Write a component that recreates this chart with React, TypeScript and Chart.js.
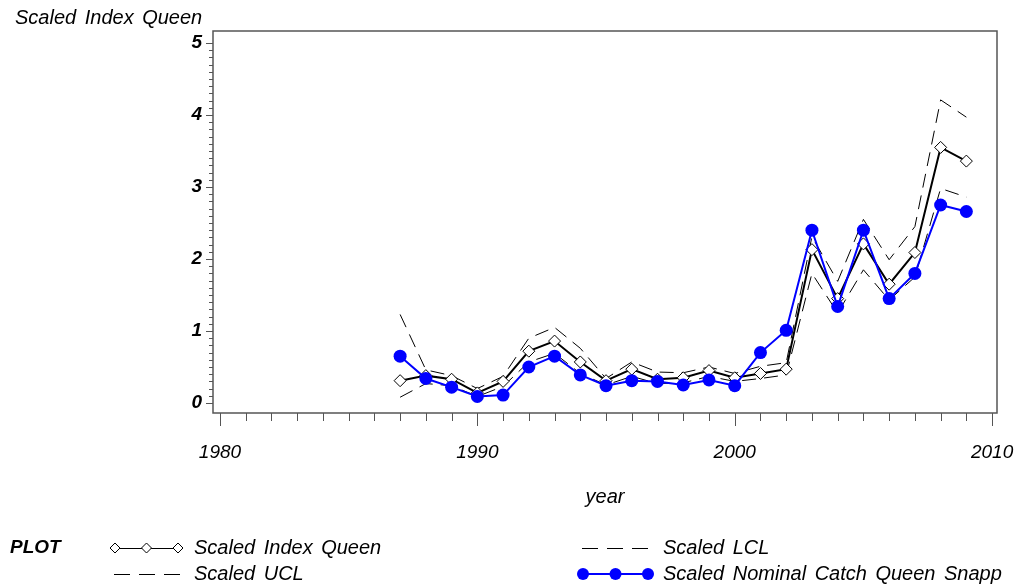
import React, { useEffect, useRef } from "react";
import { Chart, registerables } from "chart.js";

Chart.register(...registerables);

const years = [1987, 1988, 1989, 1990, 1991, 1992, 1993, 1994, 1995, 1996, 1997, 1998, 1999, 2000, 2001, 2002, 2003, 2004, 2005, 2006, 2007, 2008, 2009];
const scaledIndex = [0.31, 0.38, 0.33, 0.14, 0.30, 0.72, 0.86, 0.57, 0.31, 0.47, 0.33, 0.35, 0.45, 0.35, 0.41, 0.47, 2.13, 1.45, 2.21, 1.65, 2.09, 3.55, 3.36];
const scaledUCL = [1.23, 0.46, 0.38, 0.20, 0.37, 0.90, 1.05, 0.76, 0.34, 0.57, 0.43, 0.42, 0.50, 0.41, 0.51, 0.56, 2.31, 1.69, 2.55, 1.99, 2.45, 4.21, 3.97];
const scaledLCL = [0.08, 0.27, 0.24, 0.09, 0.23, 0.57, 0.69, 0.41, 0.25, 0.37, 0.27, 0.28, 0.37, 0.30, 0.34, 0.39, 1.80, 1.25, 1.85, 1.43, 1.75, 2.98, 2.86];
const scaledNominal = [0.65, 0.34, 0.22, 0.09, 0.11, 0.50, 0.65, 0.39, 0.24, 0.31, 0.30, 0.25, 0.32, 0.24, 0.70, 1.01, 2.40, 1.34, 2.40, 1.45, 1.80, 2.75, 2.66];

const xTickYears = [1980, 1990, 2000, 2010];
const yTickValues = [0, 1, 2, 3, 4, 5];

const yAxisTitle = "Scaled Index Queen";
const xAxisTitle = "year";
const legendHeader = "PLOT";
const seriesNames = ["Scaled Index Queen", "Scaled UCL", "Scaled LCL", "Scaled Nominal Catch Queen Snapp"];

const FAMILY = '"Liberation Sans", Arial, sans-serif';
const BLUE = "#0000ff";

const pts = (vals: number[]) => years.map((yr, i) => ({ x: yr, y: vals[i] }));

const decorPlugin = {
  id: "decor",
  afterDraw(chart: any) {
    const { ctx, chartArea: a, scales } = chart;
    const xs = scales.x;
    const ys = scales.y;
    ctx.save();
    // frame
    ctx.strokeStyle = "#555";
    ctx.lineWidth = 1.5;
    ctx.strokeRect(a.left, a.top, a.right - a.left, a.bottom - a.top);
    // y ticks (major every 1, minor every 0.1)
    ctx.lineWidth = 1;
    ctx.strokeStyle = "#555";
    for (let i = 0; i <= 50; i++) {
      const y = Math.round(ys.getPixelForValue(i / 10)) + 0.5;
      const len = i % 10 === 0 ? 7 : 4;
      ctx.beginPath();
      ctx.moveTo(a.left - len, y);
      ctx.lineTo(a.left, y);
      ctx.stroke();
    }
    // x ticks (major every 10 years, minor every year)
    for (let yr = xTickYears[0]; yr <= xTickYears[xTickYears.length - 1]; yr++) {
      const x = Math.round(xs.getPixelForValue(yr)) + 0.5;
      const len = yr % 10 === 0 ? 13 : 8;
      ctx.beginPath();
      ctx.moveTo(x, a.bottom);
      ctx.lineTo(x, a.bottom + len);
      ctx.stroke();
    }
    // titles
    ctx.fillStyle = "#000";
    (ctx as any).wordSpacing = "3px";
    ctx.font = `italic 20px ${FAMILY}`;
    ctx.textBaseline = "middle";
    ctx.textAlign = "left";
    ctx.fillText(yAxisTitle, 15, 18);
    ctx.textAlign = "center";
    ctx.fillText(xAxisTitle, (a.left + a.right) / 2, 497);

    // legend
    const r1 = 548;
    const r2 = 574;
    ctx.textAlign = "left";
    ctx.font = `italic bold 19px ${FAMILY}`;
    ctx.fillText(legendHeader, 10, r1);
    ctx.font = `italic 20px ${FAMILY}`;
    ctx.fillText(seriesNames[0], 194, r1);
    ctx.fillText(seriesNames[1], 194, r2);
    ctx.fillText(seriesNames[2], 663, r1);
    ctx.fillText(seriesNames[3], 663, r2);

    // symbol: index (line + diamonds)
    ctx.strokeStyle = "#000";
    ctx.lineWidth = 1;
    ctx.beginPath();
    ctx.moveTo(115, r1 + 0.5);
    ctx.lineTo(178, r1 + 0.5);
    ctx.stroke();
    [115, 146.5, 178].forEach((cx) => {
      ctx.beginPath();
      ctx.moveTo(cx - 5, r1);
      ctx.lineTo(cx, r1 - 5);
      ctx.lineTo(cx + 5, r1);
      ctx.lineTo(cx, r1 + 5);
      ctx.closePath();
      ctx.fillStyle = "#fff";
      ctx.fill();
      ctx.stroke();
    });
    // dashed symbols
    ctx.setLineDash([16, 9]);
    ctx.beginPath();
    ctx.moveTo(114, r2 + 0.5);
    ctx.lineTo(182, r2 + 0.5);
    ctx.moveTo(582, r1 + 0.5);
    ctx.lineTo(650, r1 + 0.5);
    ctx.stroke();
    ctx.setLineDash([]);
    // blue dots
    ctx.strokeStyle = BLUE;
    ctx.lineWidth = 2;
    ctx.beginPath();
    ctx.moveTo(583, r2);
    ctx.lineTo(648, r2);
    ctx.stroke();
    ctx.fillStyle = BLUE;
    [583, 615.5, 648].forEach((cx) => {
      ctx.beginPath();
      ctx.arc(cx, r2, 6, 0, Math.PI * 2);
      ctx.fill();
    });
    ctx.restore();
  },
};

export default function App() {
  const ref = useRef<HTMLCanvasElement | null>(null);
  useEffect(() => {
    if (!ref.current) return;
    const chart = new Chart(ref.current, {
      type: "line",
      data: {
        datasets: [
          {
            label: seriesNames[3],
            data: pts(scaledNominal),
            borderColor: BLUE,
            backgroundColor: BLUE,
            borderWidth: 2,
            pointStyle: "circle",
            pointRadius: 6.5,
            pointBackgroundColor: BLUE,
            pointBorderColor: BLUE,
            pointBorderWidth: 0,
            order: 0,
          },
          {
            label: seriesNames[0],
            data: pts(scaledIndex),
            borderColor: "#000",
            borderWidth: 2,
            pointStyle: "rectRot",
            pointRadius: 6,
            pointBackgroundColor: "#fff",
            pointBorderColor: "#000",
            pointBorderWidth: 1,
            order: 1,
          },
          {
            label: seriesNames[1],
            data: pts(scaledUCL),
            borderColor: "#000",
            borderWidth: 1,
            borderDash: [14, 8],
            pointRadius: 0,
            order: 2,
          },
          {
            label: seriesNames[2],
            data: pts(scaledLCL),
            borderColor: "#000",
            borderWidth: 1,
            borderDash: [14, 8],
            pointRadius: 0,
            order: 2,
          },
        ],
      } as any,
      options: {
        animation: false,
        responsive: false,
        layout: { padding: { top: 31, right: 19, left: 0, bottom: 0 } },
        plugins: {
          legend: { display: false },
          tooltip: { enabled: false },
          title: { display: false },
        },
        elements: { line: { tension: 0 } },
        scales: {
          x: {
            type: "linear",
            min: 1979.73,
            max: 2010.19,
            afterBuildTicks: (s: any) => {
              s.ticks = xTickYears.map((v) => ({ value: v }));
            },
            afterFit: (s: any) => {
              s.height = 174;
              s.paddingLeft = 0;
              s.paddingRight = 0;
            },
            ticks: {
              autoSkip: false,
              maxRotation: 0,
              padding: 28,
              color: "#000",
              font: { family: FAMILY, size: 19, style: "italic" },
              callback: (v: any) => String(v),
            },
            grid: { display: false, drawTicks: false },
            border: { display: false },
          },
          y: {
            type: "linear",
            min: -0.139,
            max: 5.167,
            afterBuildTicks: (s: any) => {
              s.ticks = yTickValues.map((v) => ({ value: v }));
            },
            afterFit: (s: any) => {
              s.width = 213;
              s.paddingTop = 0;
              s.paddingBottom = 0;
            },
            ticks: {
              padding: 11,
              color: "#000",
              font: { family: FAMILY, size: 19, style: "italic", weight: "bold" },
              callback: (v: any) => String(v),
            },
            grid: { display: false, drawTicks: false },
            border: { display: false },
          },
        },
      } as any,
      plugins: [decorPlugin],
    });
    return () => chart.destroy();
  }, []);
  return (
    <div style={{ position: "absolute", left: 0, top: 0, width: 1016, height: 587, background: "#fff" }}>
      <canvas ref={ref} width={1016} height={587} style={{ display: "block" }} />
    </div>
  );
}
